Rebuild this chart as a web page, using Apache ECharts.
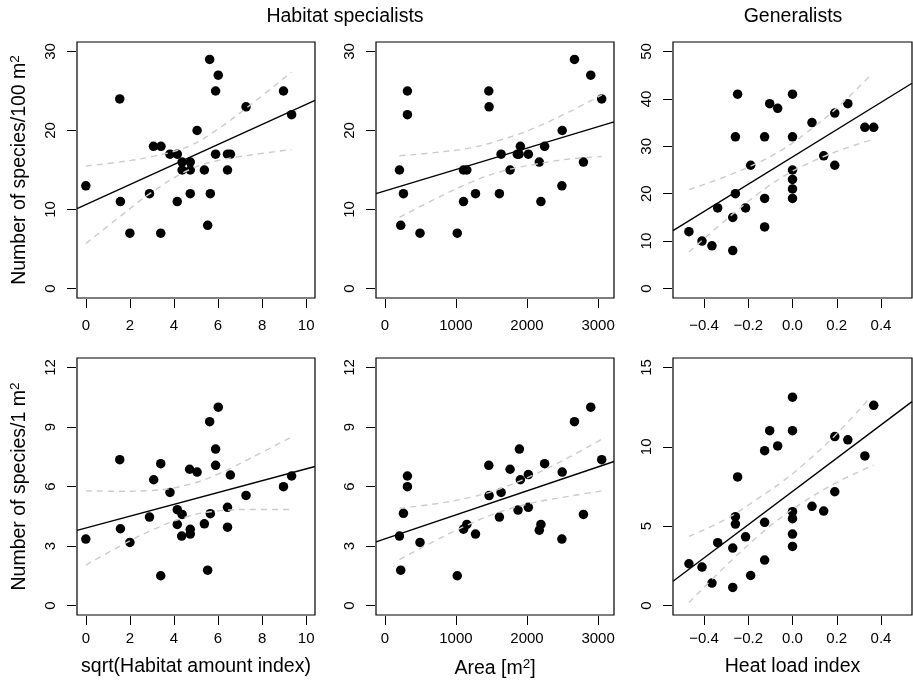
<!DOCTYPE html>
<html><head><meta charset="utf-8">
<script src="https://cdn.jsdelivr.net/npm/echarts@6/dist/echarts.min.js"></script>
<style>html,body{margin:0;padding:0;background:#fff}#c{width:913px;height:684px}</style>
</head><body><div id="c"></div>
<script>
// ---------- data ----------
const habX100 = [0,1.54,1.57,2.0,2.89,3.07,3.41,3.40,3.82,4.15,4.15,4.37,4.37,4.74,4.74,4.74,5.05,5.38,5.53,5.62,5.65,5.89,5.89,6.01,6.43,6.43,6.56,7.27,8.97,9.34];
const habY100 = [13,24,11,7,12,18,18,7,17,17,11,16,15,16,15,12,20,15,8,29,12,25,17,27,15,17,17,23,25,22];
const areaX100 = [206,262,224,318,318,495,1019,1107,1107,1154,1276,1463,1467,1612,1636,1762,1864,1888,1907,2019,2173,2196,2248,2495,2491,2668,2794,2897,3051];
const areaY100 = [15,12,8,25,22,7,7,11,15,15,12,25,23,12,17,15,17,17,18,17,16,11,18,20,13,29,16,27,24];
const heatX100 = [-0.468,-0.409,-0.364,-0.338,-0.270,-0.270,-0.258,-0.258,-0.248,-0.212,-0.189,-0.126,-0.126,-0.126,-0.103,-0.067,0,0,0,0,0,0,0.088,0.141,0.191,0.191,0.25,0.327,0.367];
const heatY100 = [12,10,9,17,8,15,20,32,41,17,26,13,19,32,39,38,19,21,23,25,32,41,35,28,37,26,39,34,34];

const habX1 = [0,1.54,1.57,2.0,2.89,3.08,3.40,3.40,3.82,4.15,4.15,4.37,4.35,4.71,4.74,4.74,5.05,5.38,5.53,5.62,5.65,5.89,5.89,6.01,6.43,6.43,6.56,7.27,8.97,9.34];
const habY1 = [3.35,7.35,3.87,3.18,4.46,6.34,7.15,1.50,5.70,4.83,4.09,4.59,3.50,6.87,3.84,3.60,6.73,4.12,1.78,9.27,4.63,7.89,7.07,10.0,3.95,4.95,6.58,5.55,5.99,6.53];
const areaX1 = [206,262,224,318,318,495,1019,1107,1154,1276,1463,1467,1612,1636,1762,1874,1893,1907,2019,2019,2173,2196,2248,2495,2491,2668,2794,2897,3051];
const areaY1 = [3.50,4.65,1.78,6.53,5.99,3.18,1.50,3.85,4.09,3.60,7.07,5.54,4.46,5.70,6.87,4.81,7.89,6.34,6.60,4.95,3.80,4.09,7.15,6.73,3.35,9.27,4.59,10.0,7.35];
const heatX1 = [-0.468,-0.409,-0.364,-0.338,-0.270,-0.270,-0.258,-0.258,-0.248,-0.212,-0.189,-0.126,-0.126,-0.126,-0.103,-0.067,0,0,0,0,0,0,0.088,0.141,0.191,0.191,0.25,0.327,0.367];
const heatY1 = [2.63,2.42,1.41,3.96,1.14,3.62,5.13,5.60,8.10,4.33,1.89,2.86,5.24,9.76,11.02,10.06,3.72,4.50,5.47,5.91,11.02,13.13,6.25,5.95,10.65,7.17,10.44,9.43,12.62];

// fitted lines (end points at axis limits) and confidence bands
const fitHab100 = [[-0.4,10.1],[10.4,23.8]];
const ciUpHab100 = [[0,15.5],[1.5,16.0],[3,16.7],[4.67,18.0],[6,20.2],[7.5,23.3],[9.34,27.4]];
const ciLoHab100 = [[0,5.7],[1.5,9.0],[3,12.2],[4.67,15.0],[6,16.2],[7.5,16.9],[9.34,17.6]];
const fitArea100 = [[-124,12.0],[3224,21.1]];
const ciUpArea100 = [[206,16.8],[700,17.2],[1200,17.8],[1630,18.8],[2100,20.3],[2600,22.4],[3051,24.5]];
const ciLoArea100 = [[206,9.0],[700,11.3],[1200,13.4],[1630,14.8],[2100,15.7],[2600,16.4],[3051,16.7]];
const fitHeat100 = [[-0.54,12.2],[0.54,43.3]];
const ciUpHeat100 = [[-0.468,20.85],[-0.3,23.67],[-0.15,26.65],[-0.05,29.19],[0.05,32.4],[0.2,38.05],[0.358,45.2]];
const ciLoHeat100 = [[-0.468,7.69],[-0.3,14.53],[-0.15,20.19],[-0.05,23.39],[0.05,25.94],[0.2,28.91],[0.367,31.5]];

const fitHab1 = [[-0.4,3.79],[10.4,7.01]];
const ciUpHab1 = [[0,5.78],[1.5,5.76],[3,5.8],[4.67,6.1],[6,6.63],[7.5,7.44],[9.34,8.5]];
const ciLoHab1 = [[0,2.04],[1.5,2.96],[3,3.8],[4.67,4.5],[6,4.77],[7.5,4.84],[9.34,4.84]];
const fitArea1 = [[-124,3.21],[3224,7.26]];
const ciUpArea1 = [[206,4.9],[700,5.12],[1200,5.45],[1630,5.9],[2100,6.6],[2600,7.49],[3051,8.38]];
const ciLoArea1 = [[206,2.31],[700,3.25],[1200,4.12],[1630,4.73],[2100,5.19],[2600,5.51],[3051,5.78]];
const fitHeat1 = [[-0.54,1.53],[0.54,12.85]];
const ciUpHeat1 = [[-0.468,4.35],[-0.3,5.45],[-0.15,6.8],[-0.05,7.77],[0.05,8.89],[0.2,10.82],[0.35,13.1]];
const ciLoHeat1 = [[-0.468,0.19],[-0.3,2.52],[-0.15,4.44],[-0.05,5.57],[0.05,6.53],[0.2,7.76],[0.367,8.85]];

// tick values and labels
const habTicks = [0,2,4,6,8,10];
const habTickLabels = ['0','2','4','6','8','10'];
const areaTicks = [0,1000,2000,3000];
const areaTickLabels = ['0','1000','2000','3000'];
const heatTicks = [-0.4,-0.2,0,0.2,0.4];
const heatTickLabels = ['\u22120.4','\u22120.2','0.0','0.2','0.4'];
const y30Ticks = [0,10,20,30];
const y50Ticks = [0,10,20,30,40,50];
const y12Ticks = [0,3,6,9,12];
const y15Ticks = [0,5,10,15];

const colTitles = ['Habitat specialists','Generalists'];
const xTitles = ['sqrt(Habitat amount index)','{a|Area [m}{s|2}{a|]}','Heat load index'];
const yTitles = ['{a|Number of species/100 m}{s|2}','{a|Number of species/1 m}{s|2}'];

// ---------- chart ----------
const FONT = "'Liberation Sans', Arial, Helvetica, sans-serif";
const cols = [{left:77,width:238},{left:376,width:238},{left:673,width:239}];
const rows = [{top:42,height:256},{top:358,height:257}];
const nameRich = {a:{fontSize:19.5, color:'#000', fontFamily:FONT, lineHeight:24},
                  s:{fontSize:13.5, color:'#000', fontFamily:FONT, verticalAlign:'top', lineHeight:14}};

const panels = [
  {r:0,c:0,x:habX100,y:habY100,fit:fitHab100,up:ciUpHab100,lo:ciLoHab100,xmin:-0.4,xmax:10.4,xt:habTicks,xl:habTickLabels,ymin:-1.2,ymax:31.2,yt:y30Ticks},
  {r:0,c:1,x:areaX100,y:areaY100,fit:fitArea100,up:ciUpArea100,lo:ciLoArea100,xmin:-124,xmax:3224,xt:areaTicks,xl:areaTickLabels,ymin:-1.2,ymax:31.2,yt:y30Ticks},
  {r:0,c:2,x:heatX100,y:heatY100,fit:fitHeat100,up:ciUpHeat100,lo:ciLoHeat100,xmin:-0.54,xmax:0.54,xt:heatTicks,xl:heatTickLabels,ymin:-2,ymax:52,yt:y50Ticks},
  {r:1,c:0,x:habX1,y:habY1,fit:fitHab1,up:ciUpHab1,lo:ciLoHab1,xmin:-0.4,xmax:10.4,xt:habTicks,xl:habTickLabels,ymin:-0.48,ymax:12.48,yt:y12Ticks},
  {r:1,c:1,x:areaX1,y:areaY1,fit:fitArea1,up:ciUpArea1,lo:ciLoArea1,xmin:-124,xmax:3224,xt:areaTicks,xl:areaTickLabels,ymin:-0.48,ymax:12.48,yt:y12Ticks},
  {r:1,c:2,x:heatX1,y:heatY1,fit:fitHeat1,up:ciUpHeat1,lo:ciLoHeat1,xmin:-0.54,xmax:0.54,xt:heatTicks,xl:heatTickLabels,ymin:-0.6,ymax:15.6,yt:y15Ticks}
];

const grid=[], xAxis=[], yAxis=[], series=[];
panels.forEach((p,i)=>{
  grid.push({left:cols[p.c].left, width:cols[p.c].width, top:rows[p.r].top, height:rows[p.r].height,
    show:true, borderColor:'#000', borderWidth:1.2, backgroundColor:'transparent', containLabel:false});
  const xl = p.xl, xt = p.xt;
  xAxis.push({type:'value', gridIndex:i, min:p.xmin, max:p.xmax, offset:1, position:'bottom',
    axisLine:{show:false, onZero:false}, splitLine:{show:false},
    axisTick:{show:true, length:9, customValues:xt, lineStyle:{color:'#000', width:1}},
    axisLabel:{customValues:xt, margin: p.r===0 ? 19.5 : 15, fontSize:15, color:'#000', fontFamily:FONT,
      formatter:(v)=>{ let k = xt.findIndex(t=>Math.abs(t-v)<1e-9); return k>=0 ? xl[k] : ''; }},
    name: p.r===1 ? xTitles[p.c] : '', nameLocation:'middle', nameGap:41,
    nameTextStyle:{fontSize:19.5, color:'#000', fontFamily:FONT, rich:nameRich}
  });
  yAxis.push({type:'value', gridIndex:i, min:p.ymin, max:p.ymax, offset:1, position:'left',
    axisLine:{show:false, onZero:false}, splitLine:{show:false},
    axisTick:{show:true, length:9, customValues:p.yt, lineStyle:{color:'#000', width:1}},
    axisLabel:{customValues:p.yt, rotate:90, margin:18, fontSize:15, color:'#000', fontFamily:FONT},
    name: p.c===0 ? yTitles[p.r] : '', nameLocation:'middle', nameGap:44,
    nameTextStyle:{fontSize:19.5, color:'#000', fontFamily:FONT, rich:nameRich}
  });
  series.push({type:'scatter', xAxisIndex:i, yAxisIndex:i, data:p.x.map((v,k)=>[v,p.y[k]]),
    symbolSize:9.5, itemStyle:{color:'#000', opacity:1}, z:2, silent:true});
  series.push({type:'line', xAxisIndex:i, yAxisIndex:i, data:p.fit, symbol:'none',
    lineStyle:{color:'#000', width:1.4}, z:4, silent:true});
  [p.up,p.lo].forEach(d=>series.push({type:'line', xAxisIndex:i, yAxisIndex:i, data:d, symbol:'none', smooth:0.4,
    lineStyle:{color:'#cccccc', width:1.4, type:[6,5]}, z:3, silent:true}));
});

const chart = echarts.init(document.getElementById('c'), null, {renderer:'canvas'});
chart.setOption({
  animation:false,
  backgroundColor:'#fff',
  title:[
    {text:colTitles[0], left:345, top:7, textAlign:'center', padding:0, textStyle:{fontSize:19.5, fontWeight:'normal', color:'#000', fontFamily:FONT}},
    {text:colTitles[1], left:793, top:7, textAlign:'center', padding:0, textStyle:{fontSize:19.5, fontWeight:'normal', color:'#000', fontFamily:FONT}}
  ],
  grid, xAxis, yAxis, series
});
</script></body></html>
